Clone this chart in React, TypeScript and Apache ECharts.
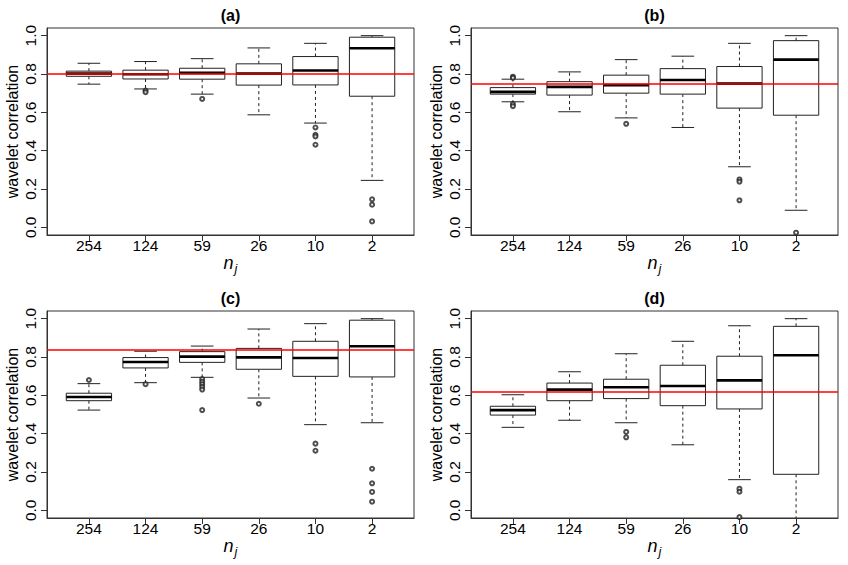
import React, { useEffect, useRef } from "react";
import * as echarts from "echarts";

const categories = ["254", "124", "59", "26", "10", "2"];
const yTicks = [0, 0.2, 0.4, 0.6, 0.8, 1.0];

// [lower whisker, Q1, median, Q3, upper whisker]
const statsA = [
  [0.747, 0.788, 0.802, 0.815, 0.856],
  [0.722, 0.774, 0.799, 0.82, 0.865],
  [0.695, 0.773, 0.806, 0.83, 0.88],
  [0.587, 0.742, 0.802, 0.853, 0.936],
  [0.544, 0.743, 0.818, 0.891, 0.96],
  [0.245, 0.684, 0.934, 0.992, 1.0],
];
const outliersA = [
  [2, 0.714], [2, 0.705], [3, 0.67],
  [5, 0.521], [5, 0.483], [5, 0.474], [5, 0.431],
  [6, 0.146], [6, 0.118], [6, 0.031],
];
const refA = 0.8;

const statsB = [
  [0.655, 0.695, 0.707, 0.729, 0.773],
  [0.603, 0.69, 0.733, 0.76, 0.811],
  [0.571, 0.7, 0.742, 0.794, 0.875],
  [0.521, 0.695, 0.769, 0.828, 0.893],
  [0.316, 0.622, 0.75, 0.839, 0.96],
  [0.089, 0.585, 0.875, 0.974, 1.0],
];
const outliersB = [
  [1, 0.786], [1, 0.78], [1, 0.643], [1, 0.632],
  [3, 0.54],
  [5, 0.25], [5, 0.238], [5, 0.141],
  [6, -0.028],
];
const refB = 0.754;

const statsC = [
  [0.523, 0.572, 0.591, 0.611, 0.661],
  [0.666, 0.743, 0.774, 0.797, 0.83],
  [0.694, 0.772, 0.802, 0.828, 0.857],
  [0.586, 0.736, 0.798, 0.845, 0.946],
  [0.447, 0.699, 0.795, 0.882, 0.974],
  [0.457, 0.696, 0.856, 0.992, 1.0],
];
const outliersC = [
  [1, 0.68],
  [2, 0.658],
  [3, 0.685], [3, 0.671], [3, 0.658], [3, 0.644], [3, 0.63], [3, 0.523],
  [4, 0.556],
  [5, 0.348], [5, 0.311],
  [6, 0.217], [6, 0.141], [6, 0.096], [6, 0.045],
];
const refC = 0.84;

const statsD = [
  [0.433, 0.497, 0.523, 0.543, 0.603],
  [0.47, 0.572, 0.63, 0.664, 0.723],
  [0.457, 0.583, 0.642, 0.684, 0.817],
  [0.342, 0.546, 0.649, 0.757, 0.882],
  [0.16, 0.529, 0.678, 0.804, 0.963],
  [-0.2, 0.188, 0.809, 0.96, 1.0],
];
const outliersD = [
  [3, 0.409], [3, 0.381],
  [5, 0.113], [5, 0.097], [5, -0.035],
];
const refD = 0.623;

const FONT = '"Liberation Sans", Arial, Helvetica, sans-serif';
const INK = "#222";

const panels = [
  { label: "(a)", stats: statsA, outliers: outliersA, ref: refA, left: 47, top: 28 },
  { label: "(b)", stats: statsB, outliers: outliersB, ref: refB, left: 471, top: 28 },
  { label: "(c)", stats: statsC, outliers: outliersC, ref: refC, left: 47, top: 311 },
  { label: "(d)", stats: statsD, outliers: outliersD, ref: refD, left: 471, top: 311 },
];
const GW = 367;
const GH = 207;

function renderBox(params: any, api: any) {
  const x = api.value(0);
  const lo = api.value(1);
  const q1 = api.value(2);
  const med = api.value(3);
  const q3 = api.value(4);
  const hi = api.value(5);
  const bw = 0.4;
  const cw = 0.2;
  const pL = api.coord([x - bw, q3]);
  const pR = api.coord([x + bw, q1]);
  const pM = api.coord([x, med]);
  const pLo = api.coord([x, lo]);
  const pHi = api.coord([x, hi]);
  const cL = api.coord([x - cw, lo])[0];
  const cR = api.coord([x + cw, lo])[0];
  const solid = { stroke: INK, lineWidth: 1, fill: "none" };
  const dashed = { stroke: INK, lineWidth: 1, lineDash: [3, 3] };
  return {
    type: "group",
    children: [
      { type: "line", shape: { x1: pM[0], y1: pL[1], x2: pM[0], y2: pHi[1] }, style: dashed },
      { type: "line", shape: { x1: pM[0], y1: pR[1], x2: pM[0], y2: pLo[1] }, style: dashed },
      { type: "line", shape: { x1: cL, y1: pHi[1], x2: cR, y2: pHi[1] }, style: solid },
      { type: "line", shape: { x1: cL, y1: pLo[1], x2: cR, y2: pLo[1] }, style: solid },
      {
        type: "rect",
        shape: { x: pL[0], y: pL[1], width: pR[0] - pL[0], height: pR[1] - pL[1] },
        style: { stroke: INK, lineWidth: 1, fill: "#fff" },
      },
      { type: "line", shape: { x1: pL[0], y1: pM[1], x2: pR[0], y2: pM[1] }, style: { stroke: "#000", lineWidth: 2.6 } },
    ],
  };
}

export default function App() {
  const ref = useRef<HTMLDivElement>(null);
  useEffect(() => {
    if (!ref.current) return;
    const chart = echarts.init(ref.current, null, { renderer: "svg" });
    const grid: any[] = [];
    const xAxis: any[] = [];
    const yAxis: any[] = [];
    const series: any[] = [];
    const graphic: any[] = [];
    panels.forEach((p, i) => {
      grid.push({
        left: p.left,
        top: p.top,
        width: GW,
        height: GH,
        show: true,
        borderColor: "#333",
        borderWidth: 1,
        backgroundColor: "transparent",
      });
      xAxis.push({
        type: "value",
        gridIndex: i,
        min: 0.26,
        max: 6.74,
        splitLine: { show: false },
        axisLine: { show: true, onZero: false, lineStyle: { color: "#333" } },
        axisTick: { show: true, customValues: [1, 2, 3, 4, 5, 6], length: 6, lineStyle: { color: "#333" } },
        axisLabel: {
          customValues: [1, 2, 3, 4, 5, 6],
          formatter: (v: number) => categories[Math.round(v) - 1],
          fontSize: 15.5,
          fontFamily: FONT,
          color: "#000",
          margin: 2,
        },
        name: "{n|n}{j|j}",
        nameLocation: "middle",
        nameGap: 10,
        nameTextStyle: {
          rich: {
            n: { fontSize: 18, fontStyle: "italic", fontFamily: FONT, color: "#000" },
            j: { fontSize: 12.5, fontStyle: "italic", fontFamily: FONT, color: "#000", padding: [12, 0, 0, 1] },
          },
        },
      });
      yAxis.push({
        type: "value",
        gridIndex: i,
        min: -0.04,
        max: 1.04,
        splitLine: { show: false },
        axisLine: { show: true, onZero: false, lineStyle: { color: "#333" } },
        axisTick: { show: true, customValues: yTicks, length: 6, lineStyle: { color: "#333" } },
        axisLabel: {
          customValues: yTicks,
          formatter: (v: number) => v.toFixed(1),
          rotate: 90,
          fontSize: 15.5,
          fontFamily: FONT,
          color: "#000",
          margin: 9,
        },
        name: "wavelet correlation",
        nameLocation: "middle",
        nameGap: 27,
        nameRotate: 90,
        nameTextStyle: { fontSize: 16, fontFamily: FONT, color: "#000" },
      });
      series.push({
        type: "custom",
        xAxisIndex: i,
        yAxisIndex: i,
        clip: true,
        renderItem: renderBox,
        encode: { x: 0, y: [1, 2, 3, 4, 5] },
        data: p.stats.map((s, k) => [k + 1, ...s]),
        z: 2,
      });
      series.push({
        type: "scatter",
        xAxisIndex: i,
        yAxisIndex: i,
        clip: true,
        symbol: "emptyCircle",
        symbolSize: 4,
        itemStyle: { color: INK, borderColor: INK, borderWidth: 0.8 },
        data: p.outliers.map((o) => [o[0], o[1]]),
        z: 3,
        markLine: {
          silent: true,
          symbol: "none",
          label: { show: false },
          lineStyle: { color: "#ff0000", type: "solid", width: 1.5 },
          data: [{ yAxis: p.ref }],
          z: 5,
        },
      });
      graphic.push({
        type: "text",
        x: p.left + GW / 2,
        y: p.top - 13,
        style: {
          text: p.label,
          font: `bold 16px ${FONT}`,
          fill: "#000",
          textAlign: "center",
          textVerticalAlign: "middle",
        },
      });
    });
    chart.setOption({
      animation: false,
      backgroundColor: "#fff",
      grid,
      xAxis,
      yAxis,
      series,
      graphic,
    });
    return () => chart.dispose();
  }, []);
  return (
    <div
      ref={ref}
      style={{ position: "absolute", left: 0, top: 0, width: 848, height: 565 }}
    />
  );
}
